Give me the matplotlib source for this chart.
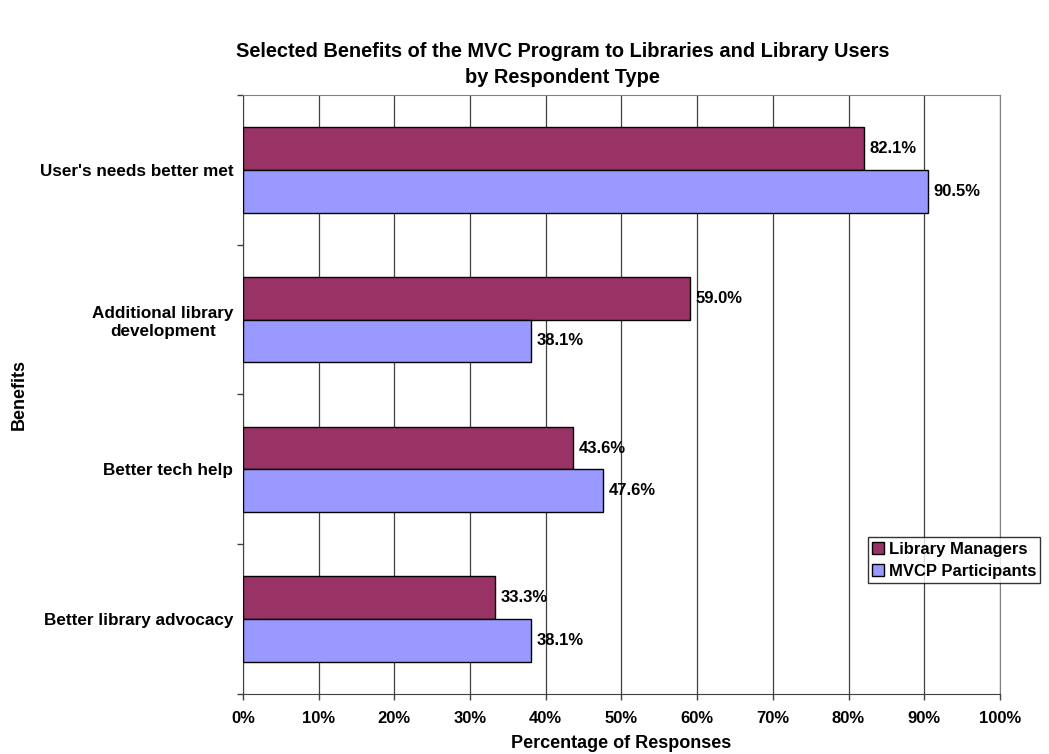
import numpy as np
import matplotlib.pyplot as plt

plt.rcParams['font.family'] = ['Liberation Sans', 'DejaVu Sans']

benefits = ["User's needs better met", "Additional library\ndevelopment",
            "Better tech help", "Better library advocacy"]
managers = [82.1, 59.0, 43.6, 33.3]
participants = [90.5, 38.1, 47.6, 38.1]
series_names = ["Library Managers", "MVCP Participants"]
colors = ["#993366", "#9999FF"]

fig = plt.figure(figsize=(10.49, 7.54), dpi=100)
ax = fig.add_axes([0.2317, 0.0796, 0.7215, 0.7944])

n = len(benefits)
y = np.arange(n)[::-1].astype(float)  # top category first
h = 0.285

b1 = ax.barh(y + h / 2, managers, height=h, color=colors[0], edgecolor='black',
             linewidth=1, label=series_names[0], zorder=3)
b2 = ax.barh(y - h / 2, participants, height=h, color=colors[1], edgecolor='black',
             linewidth=1, label=series_names[1], zorder=3)

# value labels
for bars, vals in ((b1, managers), (b2, participants)):
    for b, v in zip(bars, vals):
        ax.annotate(f"{v:.1f}%", (v, b.get_y() + b.get_height() / 2),
                    xytext=(4, 0), textcoords='offset points',
                    va='center', ha='left', fontsize=12, fontweight='bold', zorder=4)

ax.set_xlim(0, 100)
ax.set_ylim(-0.5, n - 0.5)
ax.set_xticks(np.arange(0, 101, 10))
ax.set_xticklabels([f"{v}%" for v in range(0, 101, 10)], fontsize=12, fontweight='bold')
ax.set_yticks(y)
ax.set_yticklabels(benefits, fontsize=12.3, fontweight='bold', ha='right', multialignment='center')
ax.tick_params(axis='y', length=0, pad=7)
ax.set_yticks(np.arange(-0.5, n, 1.0), minor=True)
ax.tick_params(axis='y', which='minor', length=4, width=1, color='#404040', direction='out')
ax.tick_params(axis='x', length=4, width=1, color='#404040', direction='out', pad=8)

ax.xaxis.grid(True, color='#404040', linewidth=0.9, zorder=0)
for s in ['top', 'right']:
    ax.spines[s].set_color('#808080')
for s in ['left', 'bottom']:
    ax.spines[s].set_color('#404040')

ax.set_xlabel("Percentage of Responses", fontsize=13, fontweight='bold', labelpad=7)
ax.set_ylabel("Benefits", fontsize=13, fontweight='bold')
ax.yaxis.set_label_coords(-0.284, 0.5)

fig.suptitle("Selected Benefits of the MVC Program to Libraries and Library Users\nby Respondent Type",
             fontsize=14.4, fontweight='bold', x=0.536, y=0.944, linespacing=1.45)

leg = ax.legend(loc='lower left', bbox_to_anchor=(0.8256, 0.185),
                prop={'weight': 'bold', 'size': 12}, frameon=True, fancybox=False,
                handlelength=0.7, handleheight=0.7, handletextpad=0.3,
                borderpad=0.25, labelspacing=0.45, borderaxespad=0)
leg.get_frame().set_edgecolor('black')
leg.get_frame().set_linewidth(1)
leg.set_zorder(5)

fig.savefig("out.png", dpi=100)
